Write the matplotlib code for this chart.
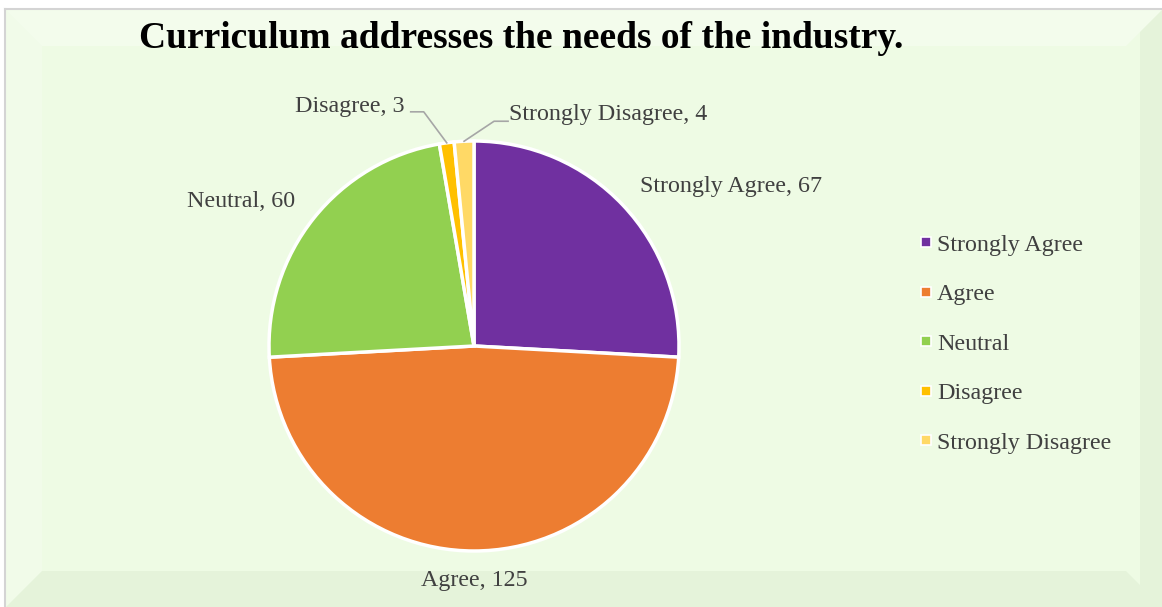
import matplotlib
matplotlib.use("Agg")
import matplotlib.pyplot as plt
import numpy as np
from matplotlib.lines import Line2D
from matplotlib.patches import Polygon, Rectangle

categories = ["Strongly Agree", "Agree", "Neutral", "Disagree", "Strongly Disagree"]
counts = [67, 125, 60, 3, 4]
colors = ["#7030A0", "#ED7D31", "#92D050", "#FFC000", "#FFD966"]
title = "Curriculum addresses the needs of the industry."

W, H = 1162, 607
fig = plt.figure(figsize=(W / 100, H / 100), dpi=100, facecolor="white")
ax = fig.add_axes([0, 0, 1, 1])

# panel background with a soft bevel (coords in pixels, y measured from bottom)
bg = "#EEFBE4"
ax.add_patch(Rectangle((6, 0), W - 6, H - 9, facecolor=bg, edgecolor="none", zorder=0))
ax.plot([5, W], [H - 9, H - 9], color="#D4D4D4", lw=1.5, zorder=1)
ax.plot([5, 5], [0, H - 9], color="#D4D4D4", lw=1.5, zorder=1)
b = 36
top = H - 10
ax.add_patch(Polygon([(6, top), (W, top), (W - b, top - b), (6 + b, top - b)],
                     facecolor="white", alpha=0.3, edgecolor="none", zorder=0.5))
ax.add_patch(Polygon([(6, top), (6 + b, top - b), (6 + b, b), (6, 0)],
                     facecolor="white", alpha=0.22, edgecolor="none", zorder=0.5))
ax.add_patch(Polygon([(6, 0), (W, 0), (W - b, b), (6 + b, b)],
                     facecolor="#D2E3C6", alpha=0.3, edgecolor="none", zorder=0.5))
ax.add_patch(Polygon([(W, 0), (W, top), (W - 22, top - 22), (W - 22, 22)],
                     facecolor="#D2E3C6", alpha=0.3, edgecolor="none", zorder=0.5))

# pie
cx, cy, r = 474, H - 346, 205
wedges, _ = ax.pie(counts, colors=colors, startangle=90, counterclock=False,
                   center=(cx, cy), radius=r, frame=True,
                   wedgeprops=dict(edgecolor="white", linewidth=2.5))
ax.set_xlim(0, W)
ax.set_ylim(0, H)
ax.set_aspect("equal")
ax.axis("off")

lab = dict(family="Liberation Serif", fontsize=17.3, color="#404040")
mids = [np.deg2rad((w.theta1 + w.theta2) / 2) for w in wedges]


def at(k, f):
    return cx + f * r * np.cos(mids[k]), cy + f * r * np.sin(mids[k])


x, y = at(0, 1.08)
ax.text(x + 5, y + 7, f"{categories[0]}, {counts[0]}", ha="left", va="center", **lab)
x, y = at(1, 1.08)
ax.text(x, y - 3, f"{categories[1]}, {counts[1]}", ha="center", va="top", **lab)
x, y = at(2, 1.08)
ax.text(x - 6, y + 6, f"{categories[2]}, {counts[2]}", ha="right", va="center", **lab)

# small slices get leader lines
x, y = at(3, 1.0)
ax.plot([x, x - 23, x - 36], [y, y + 31, y + 31], color="#A6A6A6", lw=1.2, zorder=3)
ax.text(x - 42, y + 36, f"{categories[3]}, {counts[3]}", ha="right", va="center", **lab)
x, y = at(4, 1.0)
ax.plot([x, x + 30, x + 44], [y, y + 20, y + 20], color="#A6A6A6", lw=1.2, zorder=3)
ax.text(x + 45, y + 27, f"{categories[4]}, {counts[4]}", ha="left", va="center", **lab)

ax.text(521, H - 38, title, ha="center", va="center",
        family="Liberation Serif", fontweight="bold", fontsize=27, color="black")

handles = [Line2D([], [], ls="none", marker="s", markersize=7.5, markerfacecolor=c,
                  markeredgecolor="white", markeredgewidth=1.2) for c in colors]
leg = ax.legend(handles, categories, loc="upper left", bbox_to_anchor=(908 / W, 1 - 222 / H),
                frameon=False, handlelength=0.5, handletextpad=0.2, labelspacing=1.15,
                prop=dict(family="Liberation Serif", size=17.3), borderpad=0)
for t in leg.get_texts():
    t.set_color("#404040")

fig.savefig("out.png", dpi=100, facecolor="white")
